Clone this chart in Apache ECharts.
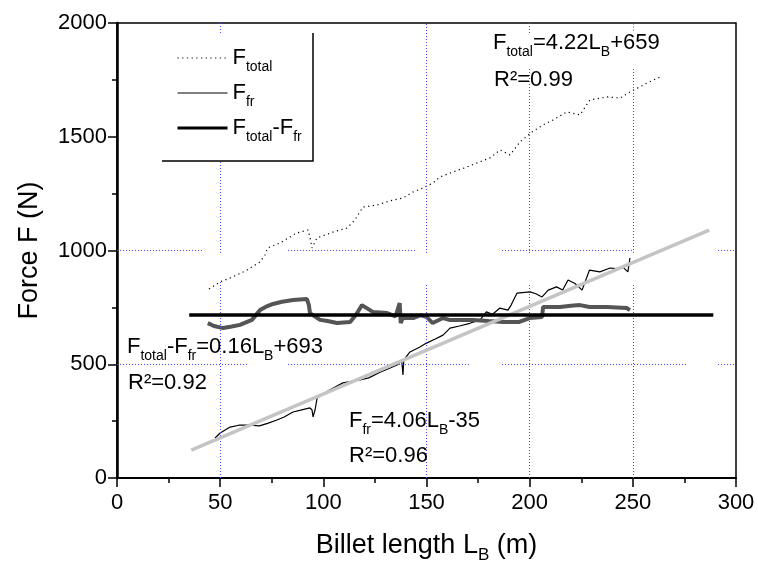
<!DOCTYPE html>
<html>
<head>
<meta charset="utf-8">
<title>Force vs billet length</title>
<script src="https://cdn.jsdelivr.net/npm/echarts@6/dist/echarts.min.js"></script>
<style>
  html, body { margin: 0; padding: 0; background: #fff; }
  #chart { width: 758px; height: 572px; }
</style>
</head>
<body>
<div id="chart"></div>
<script>
// values: billet length L_B (m) vs force (N)
const totalLen = [44.6, 50, 56.2, 63, 69.3, 71.7, 73, 79, 87, 92.6, 93.5, 94.5, 96.9, 104.7, 111.5, 115.3, 119.2, 126, 132.3, 138.6, 143.5, 148.3, 153.2, 156.5, 162.8, 169.6, 174.5, 180.8, 185.6, 190.5, 195.3, 201.1, 206.5, 211.3, 218, 224.4, 229.2, 237.5, 243.8, 248.6, 256.9, 263.2];
const totalForce = [831, 862, 884, 914, 950, 980, 1011, 1033, 1077, 1090, 1059, 1011, 1055, 1081, 1099, 1134, 1191, 1200, 1218, 1231, 1257, 1275, 1297, 1323, 1345, 1367, 1385, 1407, 1442, 1420, 1477, 1521, 1552, 1574, 1609, 1596, 1662, 1675, 1670, 1697, 1736, 1763];

const frLen = [47.5, 50, 54.8, 59, 63, 69, 73, 77.5, 81, 85.3, 89, 93.5, 94.5, 95, 96, 97, 103, 109.5, 117.8, 122, 127.5, 131, 135.7, 138, 138.6, 139, 142, 146.8, 150, 154, 158, 161.4, 166, 171, 176, 179, 182, 185.6, 189.5, 191, 193.9, 200.2, 203, 206, 209, 213, 216, 218.6, 222, 225.4, 229, 234, 239, 242, 245, 247.6, 248.6];
const frForce = [176, 198, 224, 232, 233, 229, 240, 255, 268, 290, 298, 308, 300, 268, 300, 352, 387, 418, 431, 440, 465, 478, 497, 515, 453, 519, 554, 576, 593, 610, 628, 659, 668, 680, 695, 730, 720, 747, 738, 760, 813, 818, 810, 796, 826, 840, 826, 870, 855, 826, 914, 906, 923, 920, 928, 906, 967];

const diffLen = [44, 47, 51.4, 55, 59.6, 65.4, 69.3, 72, 75.6, 80, 85.3, 92, 93, 93.5, 98.4, 102, 106.6, 113, 116, 118.7, 124, 130.9, 135, 137, 137.5, 138.5, 143.5, 147, 150, 153, 158, 161, 172.5, 180, 187, 195, 200, 206, 206.5, 214.7, 220, 224.4, 229, 237.5, 247, 248.6];
const diffForce = [681, 668, 659, 665, 673, 695, 738, 752, 765, 775, 782, 787, 760, 725, 695, 690, 681, 686, 720, 760, 730, 725, 710, 769, 681, 703, 703, 715, 708, 681, 703, 695, 695, 690, 686, 686, 703, 708, 752, 752, 757, 760, 752, 752, 747, 738];

// fitted lines as drawn (end points)
const frFitLen = [36, 287];
const frFitForce = [123, 1090];
const diffFitLen = [35, 289];
const diffFitForce = [716, 716];

// axis ticks: min, max, step
const xTicks = [0, 300, 50];
const yTicks = [0, 2000, 500];

// visible pieces of the dotted grid (the original hides parts of it)
const gridXLines = [
  [50, [[0, 870], [989, 1389], [1956, 2000]]],
  [150, [[0, 857], [989, 2000]]],
  [200, [[0, 857], [989, 1798], [1956, 2000]]],
  [250, [[0, 857], [989, 1798], [1967, 2000]]]
];
const gridYLines = [
  [500, [[0, 63.4], [82.9, 171.1], [186.6, 276.3], [291.3, 300]]],
  [1000, [[0, 41.7], [82.9, 145.4], [186.6, 250], [291.3, 300]]]
];

const FONT = '"Liberation Sans", Arial, sans-serif';

const pairs = (xs, ys) => xs.map((x, i) => [x, ys[i]]);

const rich = {
  m: { fontSize: 22, lineHeight: 22, verticalAlign: 'top', fontFamily: FONT, color: '#000' },
  s: { fontSize: 14, lineHeight: 14, padding: [13, 0, 0, 0], verticalAlign: 'top', fontFamily: FONT, color: '#000' }
};
const richTitle = {
  t: { fontSize: 27, lineHeight: 27, verticalAlign: 'top', fontFamily: FONT, color: '#000' },
  b: { fontSize: 17, lineHeight: 17, padding: [15, 0, 0, 0], verticalAlign: 'top', fontFamily: FONT, color: '#000' }
};

const legendLabels = {
  'F_total': '{m|F}{s|total}',
  'F_fr': '{m|F}{s|fr}',
  'F_total-F_fr': '{m|F}{s|total}{m|-F}{s|fr}'
};

const gridSegments = [];
gridXLines.forEach(([x, parts]) => parts.forEach(([a, b]) => {
  gridSegments.push([{ coord: [x, a] }, { coord: [x, b] }]);
}));
gridYLines.forEach(([y, parts]) => parts.forEach(([a, b]) => {
  gridSegments.push([{ coord: [a, y] }, { coord: [b, y] }]);
}));

const chart = echarts.init(document.getElementById('chart'));

const annotation = (left, top, text) => ({
  type: 'text', left: left, top: top, z: 50,
  style: { text: text, rich: rich, fill: '#000' }
});

// no marker dot in the legend, only the line sample
const noDot = { color: 'rgba(0,0,0,0)', borderColor: 'rgba(0,0,0,0)', borderWidth: 0 };

const option = {
  animation: false,
  backgroundColor: '#fff',
  grid: {
    left: 117, right: 22, top: 23, bottom: 94,
    show: true, borderColor: '#000', borderWidth: 1.5, backgroundColor: 'transparent'
  },
  legend: {
    data: [
      { name: 'F_total', itemStyle: noDot, lineStyle: { width: 1.2, type: [1.2, 3.5], color: '#000' } },
      { name: 'F_fr', itemStyle: noDot, lineStyle: { width: 1.2, color: '#000' } },
      { name: 'F_total-F_fr', itemStyle: noDot, lineStyle: { width: 3, color: '#000' } }
    ],
    orient: 'vertical',
    left: 176, top: 47, padding: 0, itemGap: 8,
    itemWidth: 50, itemHeight: 14,
    selectedMode: false,
    formatter: name => legendLabels[name],
    textStyle: { rich: rich, color: '#000' }
  },
  xAxis: {
    type: 'value', min: xTicks[0], max: xTicks[1], interval: xTicks[2],
    name: '{t|Billet length L}{b|B}{t| (m)}',
    nameLocation: 'middle', nameGap: 54,
    nameTextStyle: { rich: richTitle },
    axisLine: { show: true, onZero: false, lineStyle: { color: '#000', width: 2 } },
    axisTick: { show: true, inside: false, length: 9, lineStyle: { color: '#000', width: 1.5 } },
    minorTick: { show: true, splitNumber: 2, length: 5, lineStyle: { color: '#000', width: 1.5 } },
    axisLabel: { color: '#000', fontSize: 22, fontFamily: FONT, margin: 14, formatter: v => String(v) },
    splitLine: { show: false }
  },
  yAxis: {
    type: 'value', min: yTicks[0], max: yTicks[1], interval: yTicks[2],
    name: 'Force F (N)',
    nameLocation: 'middle', nameGap: 74,
    nameTextStyle: { fontSize: 27, fontFamily: FONT, color: '#000' },
    axisLine: { show: true, onZero: false, lineStyle: { color: '#000', width: 2.5 } },
    axisTick: { show: true, inside: false, length: 9, lineStyle: { color: '#000', width: 1.5 } },
    minorTick: { show: true, splitNumber: 2, length: 5, lineStyle: { color: '#000', width: 1.5 } },
    axisLabel: { color: '#000', fontSize: 22, fontFamily: FONT, margin: 10, formatter: v => String(v) },
    splitLine: { show: false }
  },
  series: [
    {
      // carrier for the dotted grid pieces
      type: 'line', data: [[0, 0]], symbol: 'none', z: 1,
      lineStyle: { width: 0 },
      markLine: {
        silent: true, symbol: 'none', animation: false,
        label: { show: false },
        lineStyle: { color: '#4646ff', width: 1, type: [1, 2] },
        emphasis: { disabled: true },
        data: gridSegments
      }
    },
    {
      name: 'F_total', type: 'line', symbol: 'none', z: 3, color: '#000',
      lineStyle: { color: '#000', width: 1.2, type: [1.2, 3.5] },
      data: pairs(totalLen, totalForce)
    },
    {
      name: 'F_fr', type: 'line', symbol: 'none', z: 3, color: '#000',
      lineStyle: { color: '#000', width: 1.2 },
      data: pairs(frLen, frForce)
    },
    {
      name: 'F_total-F_fr', type: 'line', symbol: 'none', z: 4, color: '#000',
      lineStyle: { color: '#555', width: 4 },
      data: pairs(diffLen, diffForce)
    },
    {
      name: 'fit F_fr', type: 'line', symbol: 'none', z: 5,
      lineStyle: { color: '#c4c4c4', width: 3.5 },
      data: pairs(frFitLen, frFitForce)
    },
    {
      name: 'fit F_total-F_fr', type: 'line', symbol: 'none', z: 6,
      lineStyle: { color: '#000', width: 3.5 },
      data: pairs(diffFitLen, diffFitForce)
    }
  ],
  graphic: [
    {
      // legend frame: right and bottom edges only
      type: 'polyline', z: 40,
      shape: { points: [[313, 33], [313, 161], [162, 161]] },
      style: { stroke: '#000', lineWidth: 1.5, fill: null }
    },
    annotation(493, 32, '{m|F}{s|total}{m|=4.22L}{s|B}{m|+659}'),
    annotation(494, 69, '{m|R\u00b2=0.99}'),
    annotation(127, 336, '{m|F}{s|total}{m|-F}{s|fr}{m|=0.16L}{s|B}{m|+693}'),
    annotation(128, 372, '{m|R\u00b2=0.92}'),
    annotation(349, 410, '{m|F}{s|fr}{m|=4.06L}{s|B}{m|-35}'),
    annotation(349, 445, '{m|R\u00b2=0.96}')
  ]
};

chart.setOption(option);
</script>
</body>
</html>
